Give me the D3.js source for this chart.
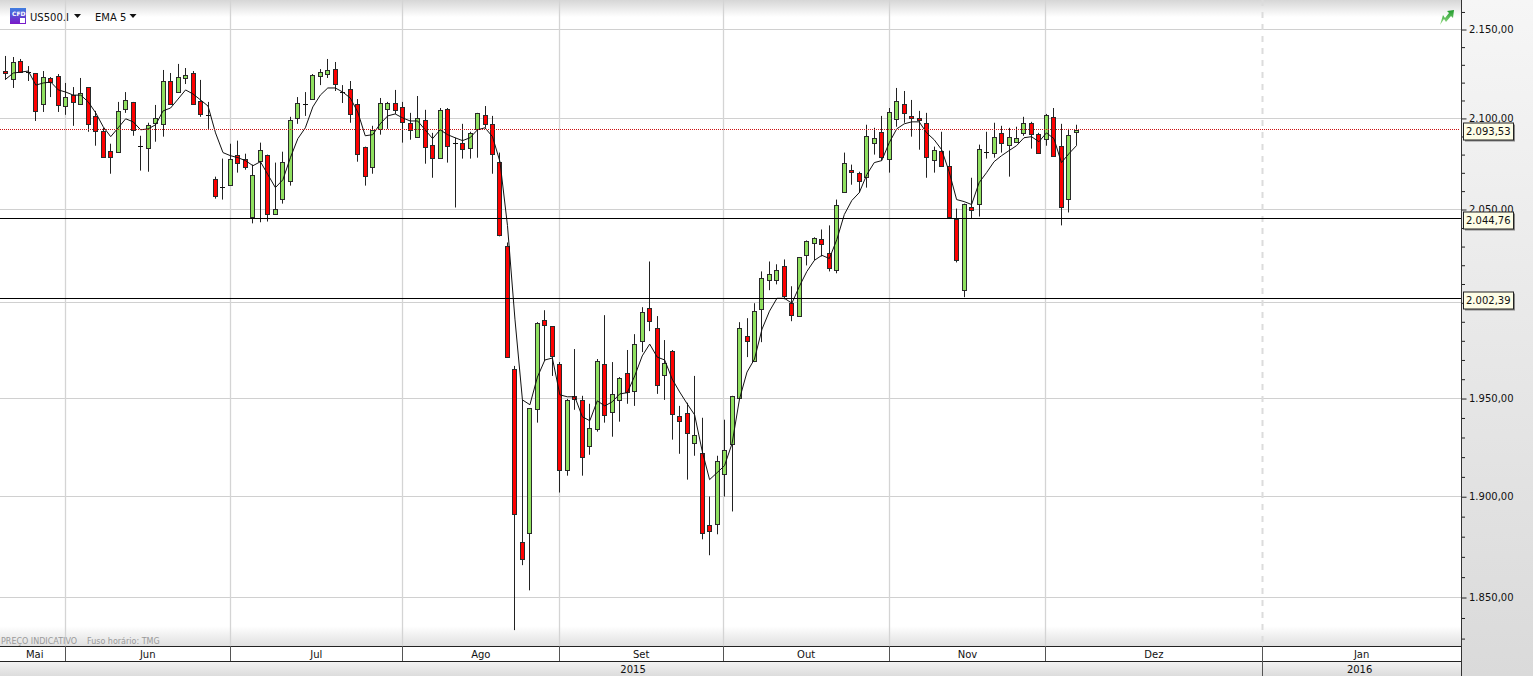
<!DOCTYPE html>
<html><head><meta charset="utf-8"><style>html,body{margin:0;padding:0;background:#fff;overflow:hidden}svg{display:block}text{font-family:"DejaVu Sans",sans-serif}</style>
<script src="https://cdn.jsdelivr.net/npm/d3@7/dist/d3.min.js"></script></head><body><svg id="c" width="1533" height="676"></svg>
<script>
const direction = "RGRDRGRRGRGRRRRGGRDGGGRGGRRDRDGRRGGRGGGGDGGGRDRRRGGGRRRGRRGRDRGGRRRRRRGGRRRGRRGGRGGRGGRRGRRRGRRGGGGRGGGGRRGGGRRGGRRGGRGGRRRRGRRRGRGDGRGGGRRGRRGG".split("");
const highs = [2135.0,2134.4,2133.3,2129.3,2125.4,2126.5,2123.1,2124.8,2119.8,2117.5,2122.6,2117.5,2104.2,2094.8,2086.0,2109.2,2114.7,2109.2,2090.4,2097.6,2107.5,2127.1,2125.4,2130.5,2128.2,2126.5,2121.5,2109.2,2067.9,2077.8,2086.0,2087.7,2080.5,2074.5,2086.6,2080.0,2075.6,2081.6,2100.9,2111.9,2114.7,2124.8,2127.6,2133.3,2131.6,2118.6,2120.9,2110.8,2084.4,2095.9,2111.4,2109.2,2115.9,2109.2,2103.1,2112.5,2104.8,2092.0,2105.8,2105.8,2089.3,2097.0,2092.6,2103.1,2106.9,2101.4,2081.1,2032.2,1966.9,1949.3,1943.7,1989.8,1996.1,1987.7,1968.9,1949.8,1975.7,1951.4,1947.3,1970.5,1993.5,1968.9,1961.1,1975.2,1983.5,1997.7,2022.0,1993.0,1980.4,1975.2,1946.2,1947.8,1961.7,1940.1,1900.1,1920.7,1939.1,1951.4,1989.8,1991.9,1999.8,2016.7,2022.0,2020.5,2023.1,2008.8,2024.2,2033.3,2035.0,2039.2,2041.4,2055.4,2081.1,2074.5,2070.6,2096.5,2094.8,2101.4,2105.8,2117.0,2115.3,2110.3,2104.2,2103.1,2084.4,2092.6,2082.2,2050.5,2053.2,2067.3,2085.5,2092.6,2097.6,2095.9,2094.8,2095.4,2100.9,2098.1,2092.0,2102.5,2105.8,2097.0,2094.2,2096.5];
const bodyHigh = [2126.8,2131.6,2131.9,2126.2,2125.4,2123.1,2122.6,2123.7,2111.9,2113.0,2114.2,2117.5,2101.4,2093.1,2082.2,2104.2,2110.3,2109.2,2084.9,2096.5,2100.3,2120.9,2120.9,2123.1,2124.2,2125.4,2109.7,2102.0,2066.8,2062.2,2077.8,2080.0,2077.8,2069.0,2082.5,2080.0,2050.5,2076.1,2099.2,2108.6,2108.0,2124.2,2125.9,2127.1,2127.6,2114.7,2116.4,2108.0,2084.4,2093.7,2108.6,2108.6,2108.6,2106.4,2097.6,2100.3,2099.2,2085.5,2104.8,2105.3,2086.6,2086.6,2092.0,2103.1,2102.0,2097.0,2076.1,2030.1,1965.3,1877.6,1945.2,1989.3,1990.9,1987.7,1967.9,1949.3,1951.4,1949.3,1935.0,1969.5,1967.9,1952.4,1960.6,1963.2,1978.3,1995.0,1997.1,1986.6,1968.4,1974.7,1941.1,1942.7,1931.4,1922.3,1885.6,1918.2,1923.8,1951.4,1986.6,1982.5,1995.6,2013.0,2015.2,2017.3,2019.4,1999.8,2024.2,2032.8,2034.4,2033.8,2026.4,2052.2,2075.6,2071.7,2070.1,2090.4,2089.3,2092.6,2103.6,2109.7,2108.0,2101.4,2100.3,2097.6,2082.7,2082.2,2073.9,2045.1,2053.2,2051.6,2083.3,2081.6,2089.9,2092.0,2089.9,2089.3,2097.6,2097.6,2091.5,2102.0,2100.9,2084.9,2091.0,2093.7];
const bodyLow = [2125.6,2122.0,2125.9,2126.1,2104.2,2108.0,2120.3,2107.5,2106.9,2109.2,2108.0,2097.0,2093.1,2078.9,2078.9,2081.6,2105.3,2093.7,2084.8,2083.8,2097.6,2097.0,2108.0,2114.7,2122.6,2108.0,2102.5,2101.9,2057.6,2062.1,2063.5,2075.6,2073.4,2045.7,2076.5,2047.8,2047.8,2055.9,2065.7,2100.3,2107.9,2110.8,2123.7,2124.8,2119.2,2114.6,2102.5,2080.5,2068.4,2073.4,2094.2,2105.3,2104.8,2098.1,2093.7,2089.9,2084.4,2078.3,2078.3,2084.9,2086.5,2083.3,2083.8,2094.2,2097.0,2080.5,2036.0,1971.5,1891.1,1868.8,1881.6,1944.7,1988.2,1972.1,1913.7,1913.7,1949.8,1920.2,1925.8,1934.5,1941.6,1943.2,1949.3,1953.4,1954.0,1979.9,1990.3,1957.0,1962.2,1942.2,1938.6,1932.4,1927.4,1881.6,1882.6,1886.1,1911.7,1926.9,1950.3,1979.9,1969.5,1996.6,2012.0,2012.0,2003.5,1993.5,1993.0,2025.3,2031.7,2031.2,2018.3,2017.3,2059.7,2070.6,2065.7,2067.9,2086.6,2078.9,2077.8,2099.8,2103.1,2100.3,2099.2,2078.9,2077.2,2073.9,2045.7,2022.6,2006.7,2050.0,2053.2,2081.5,2081.1,2086.6,2085.5,2087.1,2092.0,2091.5,2081.1,2088.8,2079.4,2051.1,2055.9,2092.6];
const lows = [2121.5,2117.0,2125.4,2120.9,2098.6,2103.6,2111.9,2103.6,2102.0,2095.9,2107.5,2092.6,2084.9,2078.3,2069.5,2081.1,2103.1,2090.4,2071.2,2070.6,2087.1,2089.9,2107.5,2114.2,2119.2,2108.0,2100.9,2094.2,2055.9,2055.4,2063.0,2070.1,2071.7,2042.5,2043.1,2043.5,2047.3,2053.2,2063.0,2097.0,2101.4,2110.3,2118.6,2122.6,2115.3,2108.6,2097.6,2076.1,2063.0,2069.5,2091.0,2094.2,2102.5,2086.6,2088.2,2089.3,2075.0,2067.3,2077.8,2075.6,2051.1,2077.8,2077.8,2078.3,2094.8,2069.5,2035.5,1971.5,1834.1,1865.9,1853.5,1937.6,1969.5,1961.7,1902.1,1910.6,1944.2,1910.6,1921.2,1933.0,1937.6,1930.4,1938.1,1947.3,1946.2,1974.1,1985.1,1952.4,1949.3,1928.9,1921.7,1908.6,1920.7,1878.7,1870.8,1881.2,1900.1,1892.6,1949.8,1971.5,1968.9,1979.3,2006.7,2009.8,2001.9,1990.3,1993.0,2019.9,2022.6,2024.7,2016.7,2015.7,2059.7,2063.5,2059.2,2061.9,2080.0,2076.7,2070.1,2095.4,2097.6,2089.9,2082.7,2067.3,2070.1,2073.9,2045.7,2021.5,2003.0,2045.1,2046.2,2077.8,2078.3,2081.1,2067.9,2086.6,2090.4,2083.3,2080.5,2084.9,2078.9,2041.4,2048.4,2084.9];
const ema5 = [2122.0,2125.4,2125.9,2126.5,2118.6,2119.8,2120.3,2115.9,2114.7,2113.0,2113.0,2109.2,2103.1,2095.4,2089.9,2094.8,2099.8,2098.1,2093.7,2094.2,2096.5,2104.2,2105.8,2110.8,2115.9,2113.6,2110.3,2106.9,2092.0,2081.1,2079.4,2078.3,2076.7,2073.9,2076.1,2069.0,2061.9,2066.2,2078.3,2088.8,2094.8,2106.4,2113.0,2117.0,2117.0,2114.7,2111.4,2103.6,2090.4,2091.0,2097.0,2101.4,2102.5,2100.3,2098.6,2098.6,2093.7,2088.8,2093.7,2091.0,2089.3,2087.7,2089.3,2093.7,2094.8,2089.9,2076.1,2041.4,1991.4,1949.3,1946.8,1961.1,1970.0,1971.0,1951.9,1950.9,1950.9,1940.6,1938.6,1948.8,1946.2,1948.3,1952.4,1953.0,1961.7,1972.1,1978.3,1971.5,1970.0,1960.1,1953.4,1947.3,1941.6,1923.3,1908.6,1912.1,1915.7,1926.9,1949.8,1963.7,1970.5,1986.1,1995.6,2002.4,2002.4,1999.8,2008.8,2016.7,2022.6,2025.3,2023.6,2033.8,2047.3,2054.9,2059.2,2069.0,2075.6,2076.7,2086.6,2094.2,2097.0,2098.1,2098.1,2092.0,2088.2,2082.7,2070.6,2055.4,2054.3,2052.7,2064.6,2070.1,2076.1,2079.4,2082.2,2084.9,2089.3,2089.9,2087.1,2092.0,2088.8,2075.6,2080.5,2084.9];
const opens = bodyHigh.map((v,i)=>direction[i]==="G"?bodyLow[i]:v);
const closes = bodyLow.map((v,i)=>direction[i]==="G"?bodyHigh[i]:v);
const priceLevels = [2150,2100,2050,2000,1950,1900,1850];
const labelHidden = [2000];
const minorLevels = d3.range(1830,2170,10).filter(v=>v%50!==0);
const tagLevels = [2093.53,2044.76,2002.39];
const solidLevels = [2044.76,2002.39];
const lastLevel = 2093.53;
const monthNames = ["Mai","Jun","Jul","Ago","Set","Out","Nov","Dez","Jan"];
const monthEdges = [-0.79,7.95,29.94,52.98,73.9,95.8,118.0,138.9,167.8,194.4];
const yearNames = ["2015","2016"];
const yearEdges = [-0.79,167.8,194.4];

const W=1533,H=676,plotR=1461,plotB=646;
const svg=d3.select("#c");
const x=d3.scaleLinear().domain([0,143]).range([5.9,1076.4]);
const y=d3.scaleLog().domain([1850,2150]).range([597.5,29.5]);
const px=i=>Math.floor(x(i))+.5;
const ex=v=>Math.floor(x(v))+.5;
const py=v=>Math.round(y(v)-.5)+.5;
const ry=v=>Math.floor(y(v)-.3)+.5;
const fmt=d3.formatLocale({decimal:",",thousands:".",grouping:[3],currency:["",""]}).format(",.2f");

const defs=svg.append("defs");
function grad(id,stops){const g=defs.append("linearGradient").attr("id",id).attr("x1",0).attr("x2",0).attr("y1",0).attr("y2",1);
 stops.forEach(s=>g.append("stop").attr("offset",s[0]).attr("stop-color",s[1]));}
grad("gTop",[[0,"#d6d6d6"],[1,"#ffffff"]]);
grad("gBot",[[0,"#ffffff"],[1,"#e0e0e0"]]);
grad("gRight",[[0,"#f6f6f6"],[1,"#dadada"]]);
grad("gYear",[[0,"#f4f4f4"],[1,"#dcdcdc"]]);
grad("gIcon",[[0,"#3f7fe0"],[1,"#7a18c8"]]);
grad("gArrow",[[0,"#1f9a2c"],[1,"#9be08a"]]);

svg.append("rect").attr("width",W).attr("height",H).attr("fill","#fff");
svg.append("rect").attr("x",plotR).attr("width",W-plotR).attr("height",H).attr("fill","url(#gRight)");
svg.append("rect").attr("width",plotR).attr("height",17).attr("fill","url(#gTop)");
svg.append("rect").attr("y",626).attr("width",plotR).attr("height",20).attr("fill","url(#gBot)");

// gridlines
const grid=svg.append("g");
grid.selectAll("line.h").data(priceLevels).join("line").attr("x1",0).attr("x2",plotR)
 .attr("y1",d=>py(d)).attr("y2",d=>py(d)).attr("stroke","#d0d0d0");
grid.selectAll("line.v").data(monthEdges.slice(1,8)).join("line")
 .attr("x1",ex).attr("x2",ex).attr("y1",0).attr("y2",plotB)
 .attr("stroke","#d4d4d4").attr("stroke-width",1.3);
grid.append("line").attr("x1",ex(monthEdges[8])).attr("x2",ex(monthEdges[8])).attr("y1",0).attr("y2",plotB)
 .attr("stroke","#dcdcdc").attr("stroke-width",2).attr("stroke-dasharray","6,6");

// candles
const idx=d3.range(highs.length);
const cg=svg.append("g");
cg.selectAll("line.w").data(idx).join("line").attr("x1",px).attr("x2",px)
 .attr("y1",i=>y(highs[i])).attr("y2",i=>y(lows[i])).attr("stroke","#222").attr("stroke-width",1);
const colour={G:"#8fe05f",R:"#ff0000",D:"#111"};
cg.selectAll("rect.b").data(idx).join("rect")
 .attr("x",i=>px(i)-2).attr("width",4)
 .attr("y",i=>Math.round(y(Math.max(opens[i],closes[i])))+.5)
 .attr("height",i=>Math.max(0.01,Math.round(y(Math.min(opens[i],closes[i])))-Math.round(y(Math.max(opens[i],closes[i])))))
 .attr("fill",i=>colour[direction[i]]).attr("stroke",i=>direction[i]==="D"?"#111":"#2a2a2a").attr("stroke-width",1);

// EMA
svg.append("path").datum(idx).attr("fill","none").attr("stroke","#111").attr("stroke-width",1)
 .attr("d",d3.line().x(i=>x(i)).y(i=>y(ema5[i])));

// reference lines
svg.selectAll("line.ref").data(solidLevels).join("line").attr("x1",0).attr("x2",plotR)
 .attr("y1",d=>ry(d)).attr("y2",d=>ry(d)).attr("stroke","#000");
svg.append("line").attr("x1",0).attr("x2",plotR-2).attr("y1",ry(lastLevel)).attr("y2",ry(lastLevel))
 .attr("stroke","#cc1010").attr("stroke-dasharray","1,1");

// price axis
const axMinor=svg.append("g").attr("transform",`translate(${plotR+.5},0)`).call(d3.axisRight(y).tickValues(minorLevels).tickSize(3.5).tickFormat(""));
const axMajor=svg.append("g").attr("transform",`translate(${plotR+.5},0)`).call(d3.axisRight(y).tickValues(priceLevels).tickSize(5).tickPadding(2.5).tickFormat(d=>labelHidden.includes(d)?"":fmt(d)));
[axMinor,axMajor].forEach(a=>{a.select(".domain").remove();a.selectAll("line").attr("stroke","#222");a.selectAll("text").attr("font-size",10).attr("fill","#111").attr("font-family","DejaVu Sans");});
svg.append("line").attr("x1",plotR+.5).attr("x2",plotR+.5).attr("y1",0).attr("y2",H).attr("stroke","#333");

// price tags
const tag=svg.selectAll("g.tag").data(tagLevels).join("g").attr("transform",d=>`translate(1463,${ry(d)-7})`);
tag.append("rect").attr("x",2).attr("y",2).attr("width",50).attr("height",17).attr("fill","#888");
tag.append("rect").attr("x",.5).attr("y",.5).attr("width",50).attr("height",17).attr("fill","#fdfde6").attr("stroke","#222");
tag.append("text").attr("x",3).attr("y",12.5).attr("font-size",10).attr("fill","#111").text(fmt);

// time bands
svg.append("rect").attr("y",661).attr("width",plotR).attr("height",15).attr("fill","url(#gYear)");
svg.append("rect").attr("y",plotB).attr("width",plotR).attr("height",15).attr("fill","#fff");
svg.selectAll("line.bandH").data([plotB,661]).join("line").attr("x1",0).attr("x2",plotR).attr("y1",d=>d+.5).attr("y2",d=>d+.5).attr("stroke","#222");
svg.selectAll("line.mSep").data(monthEdges.slice(1,8)).join("line").attr("x1",ex).attr("x2",ex)
 .attr("y1",plotB).attr("y2",661).attr("stroke","#555");
svg.append("line").attr("x1",ex(monthEdges[8])).attr("x2",ex(monthEdges[8])).attr("y1",plotB).attr("y2",H).attr("stroke","#555");
svg.selectAll("text.m").data(monthNames).join("text").attr("text-anchor","middle").attr("font-size",10).attr("fill","#111")
 .attr("x",(d,i)=>(Math.max(0,x(monthEdges[i]))+x(monthEdges[i+1]))/2+(i===0?2:0)).attr("y",657.5).text(d=>d);
svg.selectAll("text.yr").data(yearNames).join("text").attr("text-anchor","middle").attr("font-size",10).attr("fill","#111")
 .attr("x",(d,i)=>(Math.max(0,x(yearEdges[i]))+x(yearEdges[i+1]))/2+(i===0?2:-2)).attr("y",672.5).text(d=>d);

// notes and header
svg.append("text").attr("x",1).attr("y",644).attr("font-size",8).attr("fill","#9a9a9a").text("PREÇO INDICATIVO");
svg.append("text").attr("x",87).attr("y",644).attr("font-size",8).attr("fill","#9a9a9a").text("Fuso horário: TMG");
svg.append("rect").attr("x",10).attr("y",8).attr("width",16).attr("height",16).attr("fill","url(#gIcon)");
svg.append("text").attr("x",12).attr("y",16).attr("font-size",6).attr("font-weight","bold").attr("fill","#fff").text("CFD");
svg.append("rect").attr("x",20).attr("y",18).attr("width",5).attr("height",5).attr("fill","#fff");
svg.append("text").attr("x",30).attr("y",20.5).attr("font-size",10).attr("fill","#111").text("US500.I");
svg.append("path").attr("d","M74 14h7l-3.5 4z").attr("fill","#111");
svg.append("text").attr("x",95).attr("y",20.5).attr("font-size",10).attr("fill","#111").text("EMA 5");
svg.append("path").attr("d","M129.500 14h7l-3.500 4z").attr("fill","#111");
svg.append("path").attr("d","M1440 25l3-10 2 3 4-5-2-2 7-1-1 8-2-2-5 6-2-3z").attr("fill","url(#gArrow)");
</script></body></html>
